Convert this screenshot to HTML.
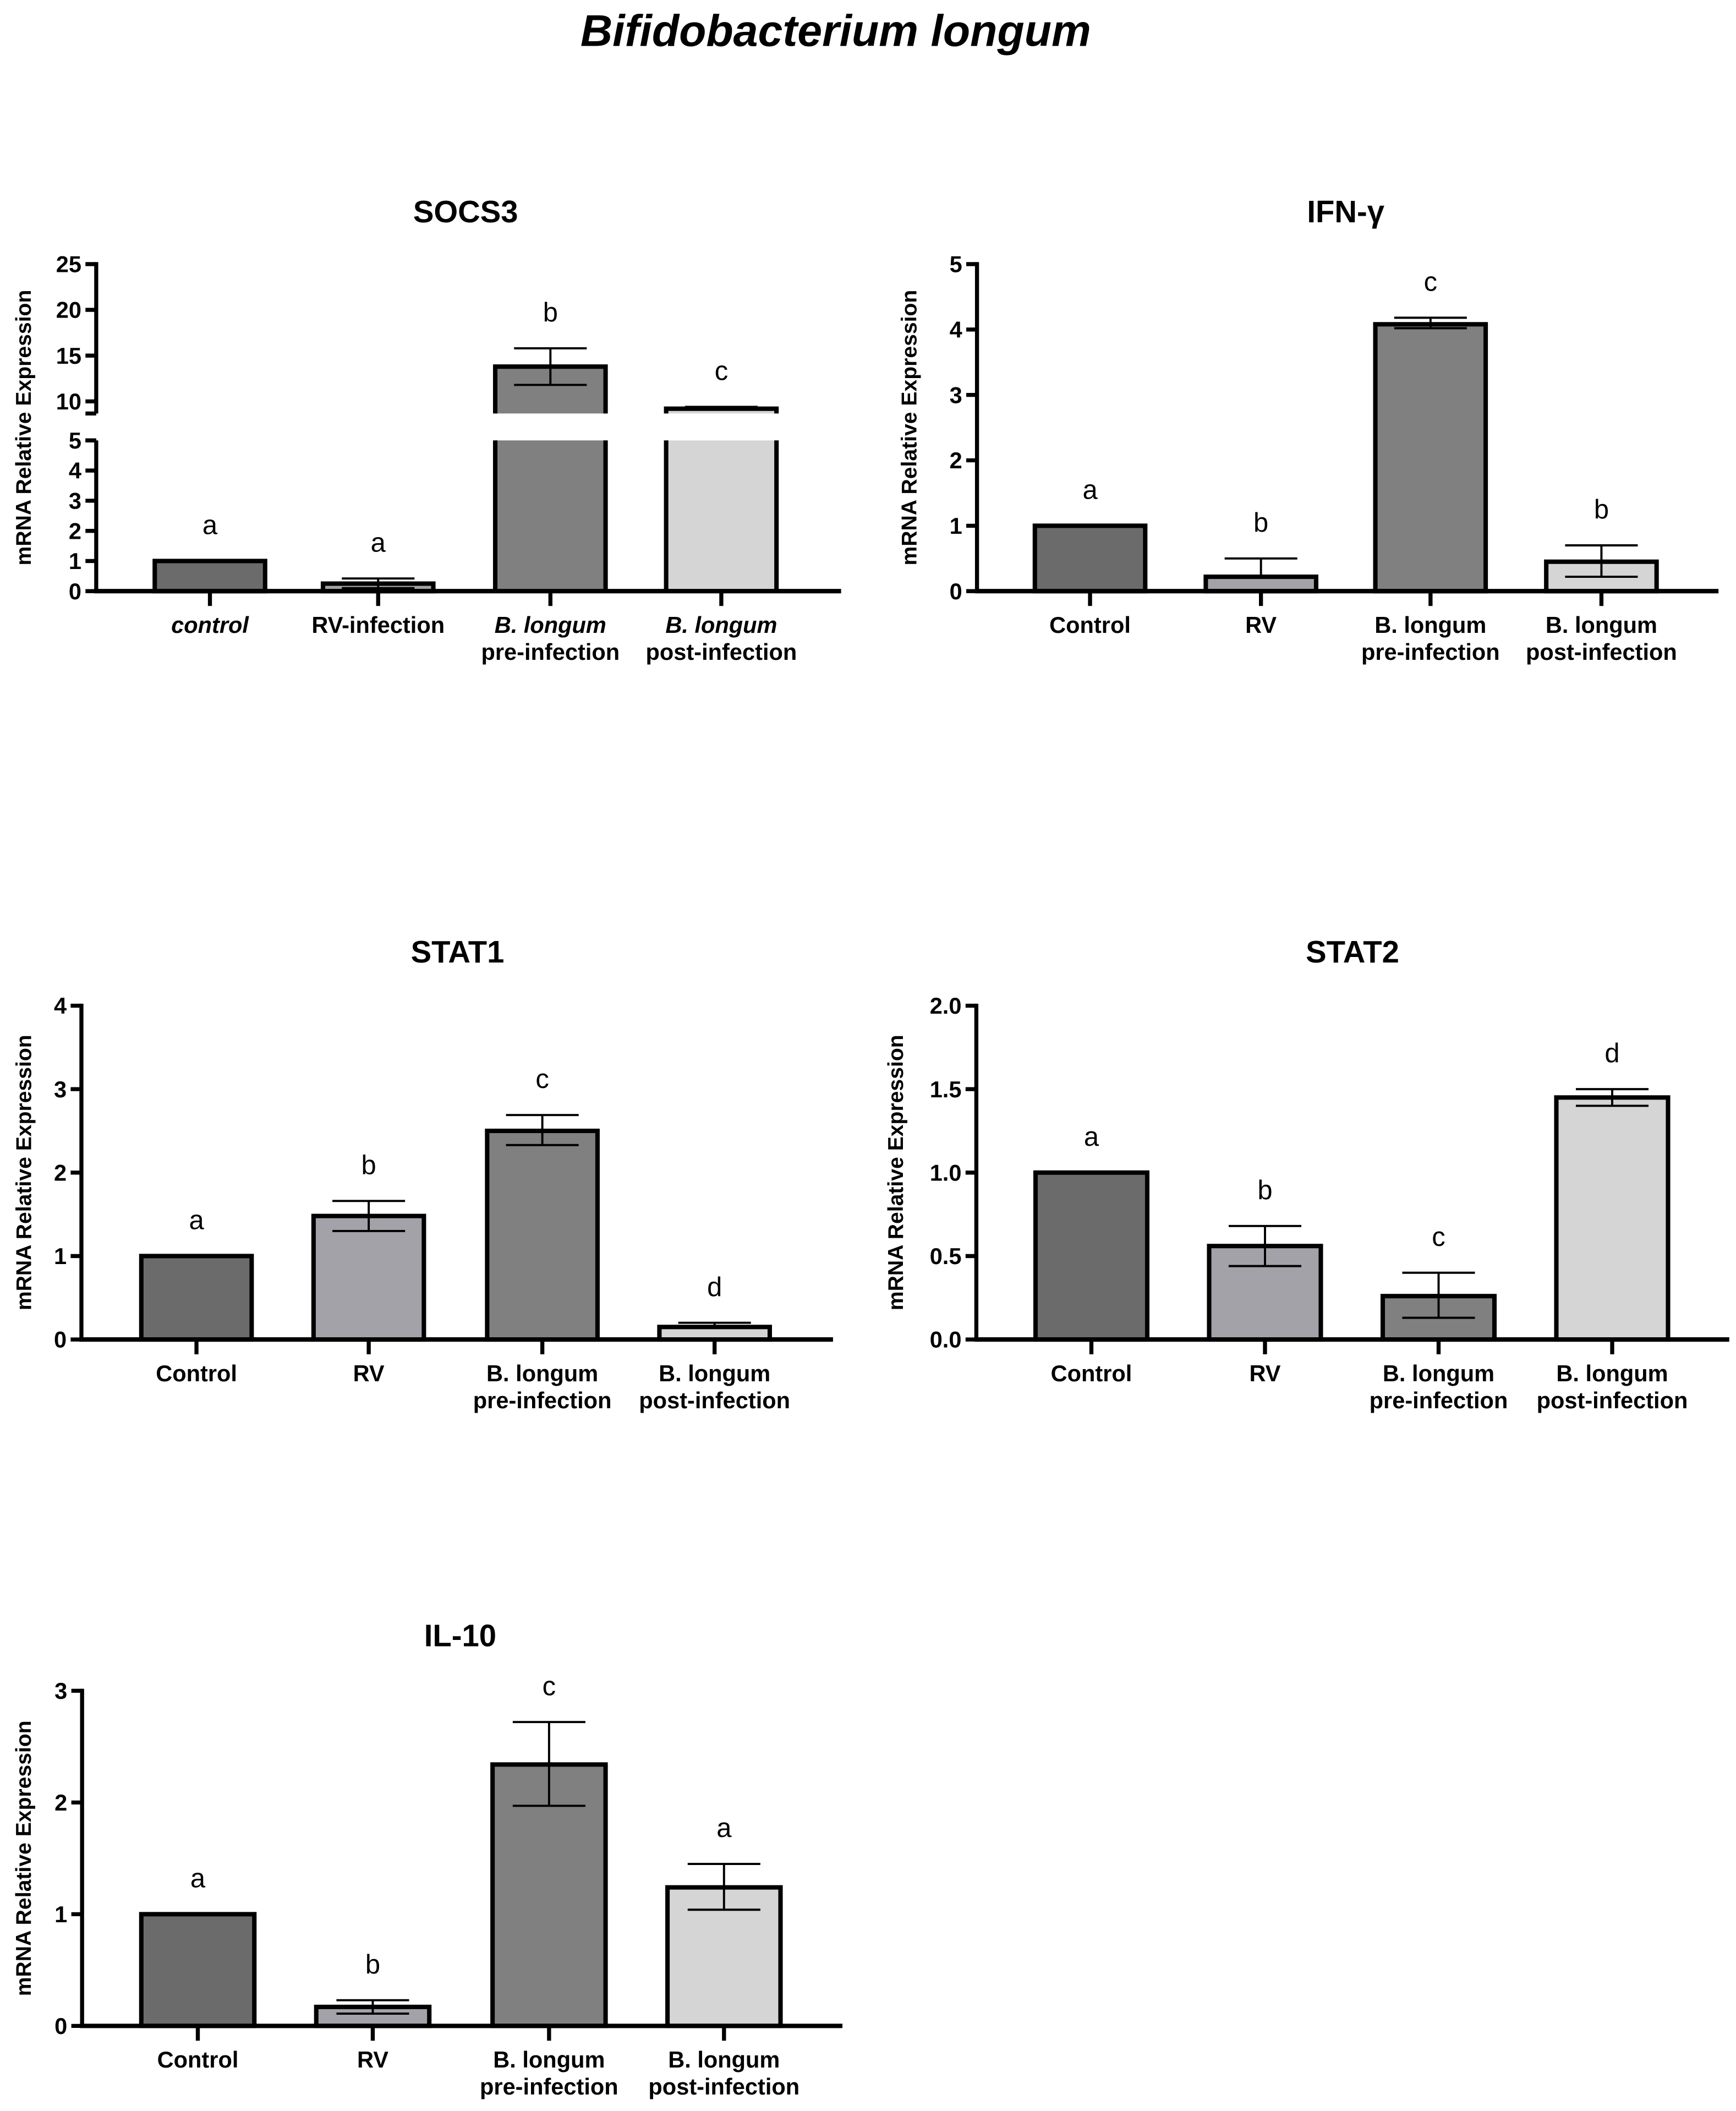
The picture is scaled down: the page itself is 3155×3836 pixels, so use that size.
<!DOCTYPE html>
<html><head><meta charset="utf-8"><style>
html,body{margin:0;padding:0;background:#fff}
svg{display:block}
text{font-family:"Liberation Sans",Arial,sans-serif;fill:#000}
</style></head><body>
<svg id="fig" width="3155" height="3836" viewBox="0 0 1290 1568" xmlns="http://www.w3.org/2000/svg">
<text x="621" y="34" text-anchor="middle" font-size="33" font-weight="bold" font-style="italic">Bifidobacterium longum</text>
</svg>
<script>
// ---- data arrays ----
const socs3Values = [1, 0.25, 13.8, 9.2];
const socs3Lo = [1, 0.1, 11.8, 9.2];
const socs3Hi = [1, 0.42, 15.8, 9.4];
const socs3Letters = ['a','a','b','c'];
const socs3UpperTicks = [10, 15, 20, 25];
const socs3LowerTicks = [0, 1, 2, 3, 4, 5];

const ifnValues = [1, 0.22, 4.08, 0.45];
const ifnLo = [1, 0.22, 4.02, 0.22];
const ifnHi = [1, 0.5, 4.18, 0.7];
const ifnLetters = ['a','b','c','b'];
const ifnTicks = [0,1,2,3,4,5];

const stat1Values = [1, 1.48, 2.5, 0.15];
const stat1Lo = [1, 1.3, 2.33, 0.15];
const stat1Hi = [1, 1.66, 2.69, 0.2];
const stat1Letters = ['a','b','c','d'];
const stat1Ticks = [0,1,2,3,4];

const stat2Values = [1, 0.56, 0.26, 1.45];
const stat2Lo = [1, 0.44, 0.13, 1.4];
const stat2Hi = [1, 0.68, 0.4, 1.5];
const stat2Letters = ['a','b','c','d'];
const stat2Ticks = ['0.0','0.5','1.0','1.5','2.0'];

const il10Values = [1, 0.17, 2.34, 1.24];
const il10Lo = [1, 0.11, 1.97, 1.04];
const il10Hi = [1, 0.23, 2.72, 1.45];
const il10Letters = ['a','b','c','a'];
const il10Ticks = [0,1,2,3];

const fills = ['#6b6b6b','#a2a2a8','#808080','#d5d5d5'];
const NS = 'http://www.w3.org/2000/svg';
const svg = document.getElementById('fig');

function mk(tag, attrs, parent, txt){
  const e = document.createElementNS(NS, tag);
  for (const k in attrs) e.setAttribute(k, attrs[k]);
  if (txt !== undefined) e.textContent = txt;
  (parent||svg).appendChild(e);
  return e;
}
function line(g,x1,y1,x2,y2,w){ return mk('line',{x1,y1,x2,y2,stroke:'#000','stroke-width':w||3},g); }

function yTitle(g, name, x, mid){
  const yt = mk('text',{x:x,y:mid,'text-anchor':'middle','font-size':16,'font-weight':'bold',transform:`rotate(-90 ${x} ${mid})`},g,'mRNA Relative Expression');
  
  
}
function tickLabel(g, name, x, y, s){
  const tl = mk('text',{x:x,y:y+6,'text-anchor':'end','font-size':17,'font-weight':'bold'},g,String(s));
  
  
}
function titleText(g, name, x, y, s){
  const t = mk('text',{x:x,y:y,'text-anchor':'middle','font-size':23,'font-weight':'bold'},g,s);
  
  
}

function panel(cfg){
  const g = mk('g',{});
  
  
  titleText(g, cfg.name, cfg.titleX, cfg.titleY, cfg.title);
  yTitle(g, cfg.name, cfg.ytX, (cfg.axisTop + cfg.y0)/2);
  const yv = v => cfg.y0 - (v/cfg.max)*(cfg.y0 - cfg.axisTop);
  const ya = line(g, cfg.ax, cfg.axisTop-1.5, cfg.ax, cfg.y0+1.5);
  
  
  cfg.ticks.forEach(tk=>{
    const v = parseFloat(tk), y = yv(v);
    line(g, cfg.ax-8, y, cfg.ax, y);
    tickLabel(g, cfg.name, cfg.ax-11, y, tk);
  });
  cfg.values.forEach((v,i)=>{
    const cx = cfg.centers[i], w = cfg.bw;
    const top = yv(v);
    const r = mk('rect',{x:cx-w/2,y:top,width:w,height:cfg.y0-top,fill:fills[i],stroke:'#000','stroke-width':3.3},g);
    
    
    errLetter(g, cfg, cx, yv(cfg.lo[i]), yv(cfg.hi[i]), top, cfg.letters[i], i);
  });
  drawX(g, cfg);
}

function errLetter(g, cfg, cx, ylo, yhi, top, letter, i){
  if (Math.abs(yhi-ylo) > 0.5 || Math.abs(yhi-top)>0.5){
    const eb = mk('g',{},g);
    
    
    line(eb, cx, ylo, cx, yhi, 1.6);
    line(eb, cx-27, yhi, cx+27, yhi, 1.6);
    if (Math.abs(ylo-top) > 1) line(eb, cx-27, ylo, cx+27, ylo, 1.6);
  }
  const ly = Math.min(yhi, top) - cfg.letterGap;
  const lt = mk('text',{x:cx,y:ly,'text-anchor':'middle','font-size':20},g,letter);
  
  
}
function drawX(g, cfg){
  const xa = line(g, cfg.ax-1.5, cfg.y0, cfg.xEnd, cfg.y0, 3.3);
  
  
  cfg.centers.forEach((cx,i)=>{
    line(g, cx, cfg.y0, cx, cfg.y0+11, 3);
    cfg.labels[i].forEach((ln,j)=>{
      const tx = mk('text',{x:cx,y:cfg.y0+31+j*20,'text-anchor':'middle','font-size':17,'font-weight':'bold','font-style':ln.italic?'italic':'normal'},g,ln.t);
      
      
    });
  });
}

const stdLabels = [[{t:'Control'}],[{t:'RV'}],[{t:'B. longum'},{t:'pre-infection'}],[{t:'B. longum'},{t:'post-infection'}]];

// ---- SOCS3 (broken axis) ----
(function(){
  const name='socs3', ax=71.5, y0=439, lowTop=327, upTop=196, upBot=307, bw=82;
  const centers=[156,281,409,536];
  const g = mk('g',{});
  
  
  titleText(g, name, 346, 165, 'SOCS3');
  yTitle(g, name, 23, (upTop+y0)/2);
  const yLow = v => y0 - v/5*(y0-lowTop);
  const yUp = v => upTop + (25-v)*(298-upTop)/15;
  const yAny = v => v<=5 ? yLow(v) : Math.max(yUp(v), upTop);
  const a1 = line(g, ax, upTop-1.5, ax, upBot);
   
  line(g, ax-8, upBot, ax, upBot);
  const a2 = line(g, ax, lowTop, ax, y0+1.5);
   
  line(g, ax-8, lowTop, ax, lowTop);
  socs3UpperTicks.forEach(v=>{ const y=yUp(v); line(g,ax-8,y,ax,y); tickLabel(g,name,ax-11,y,v); });
  socs3LowerTicks.forEach(v=>{ const y=yLow(v); line(g,ax-8,y,ax,y); tickLabel(g,name,ax-11,y,v); });
  const cfg={name,letterGap:20};
  socs3Values.forEach((v,i)=>{
    const cx=centers[i];
    if (v<=5){
      const top=yLow(v);
      const r=mk('rect',{x:cx-bw/2,y:top,width:bw,height:y0-top,fill:fills[i],stroke:'#000','stroke-width':3.3},g);
       
      errLetter(g,cfg,cx,yLow(socs3Lo[i]),yLow(socs3Hi[i]),top,socs3Letters[i],i);
    } else {
      const top=yUp(v);
      const r=mk('path',{d:`M${cx-bw/2},${upBot} V${top} H${cx+bw/2} V${upBot}`,fill:fills[i],stroke:'#000','stroke-width':3.3},g);
       
      const f=mk('rect',{x:cx-bw/2,y:lowTop,width:bw,height:y0-lowTop,fill:fills[i]},g);
       
      const r3=mk('path',{d:`M${cx-bw/2},${y0} V${lowTop} M${cx+bw/2},${lowTop} V${y0}`,fill:'none',stroke:'#000','stroke-width':3.3},g);
       
      errLetter(g,cfg,cx,yAny(socs3Lo[i]),yAny(socs3Hi[i]),top,socs3Letters[i],i);
    }
  });
  drawX(g,{name,ax,y0,xEnd:625,centers,labels:[[{t:'control',italic:true}],[{t:'RV-infection'}],[{t:'B. longum',italic:true},{t:'pre-infection'}],[{t:'B. longum',italic:true},{t:'post-infection'}]]});
})();

panel({name:'ifn-gamma',title:'IFN-γ',titleX:1000,titleY:165,ytX:681,ax:726,axisTop:196,y0:439,max:5,ticks:ifnTicks,
  centers:[810,937,1063,1190],bw:82,xEnd:1277,values:ifnValues,lo:ifnLo,hi:ifnHi,letters:ifnLetters,labels:stdLabels,letterGap:20});
panel({name:'stat1',title:'STAT1',titleX:340,titleY:715,ytX:23,ax:60.5,axisTop:747,y0:995,max:4,ticks:stat1Ticks,
  centers:[146,274,403,531],bw:82,xEnd:619,values:stat1Values,lo:stat1Lo,hi:stat1Hi,letters:stat1Letters,labels:stdLabels,letterGap:20});
panel({name:'stat2',title:'STAT2',titleX:1005,titleY:715,ytX:671,ax:725.5,axisTop:747,y0:995,max:2,ticks:stat2Ticks,
  centers:[811,940,1069,1198],bw:83,xEnd:1285,values:stat2Values,lo:stat2Lo,hi:stat2Hi,letters:stat2Letters,labels:stdLabels,letterGap:20});
panel({name:'il10',title:'IL-10',titleX:342,titleY:1223,ytX:23,ax:61,axisTop:1256,y0:1505,max:3,ticks:il10Ticks,
  centers:[147,277,408,538],bw:84,xEnd:626,values:il10Values,lo:il10Lo,hi:il10Hi,letters:il10Letters,labels:stdLabels,letterGap:20});
</script>
</body></html>
